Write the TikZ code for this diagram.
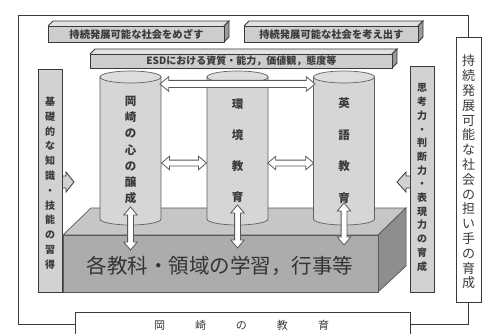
\documentclass[tikz,border=0pt]{standalone}
\usepackage{fontspec}
\newfontfamily\jp{Noto Sans CJK JP}
\usetikzlibrary{shapes.arrows,calc}
\definecolor{ink}{HTML}{3A3A3A}
\definecolor{slabfront}{HTML}{CDCDCD}
\definecolor{slabtop}{HTML}{E2E2E2}
\definecolor{slabside}{HTML}{9A9A9A}
\definecolor{cylfill}{HTML}{D6D6D6}
\definecolor{cyltop}{HTML}{DDDDDD}
\definecolor{basefront}{HTML}{ACACAC}
\definecolor{basetop}{HTML}{C6C6C6}
\definecolor{baseside}{HTML}{8E8E8E}
\definecolor{vboxfill}{HTML}{D2D2D2}
\tikzset{
  slabface/.style={draw=ink, line width=0.8pt},
  labeltext/.style={font=\jp\bfseries\fontsize{10.3}{12}\selectfont, text=ink, inner sep=0},
  vbox/.style={draw=ink, line width=1pt, fill=vboxfill, inner sep=0},
  dbl/.style={double arrow, draw=gray!70!black, line width=0.8pt, fill=white,
    inner xsep=0pt, inner ysep=2.5pt, double arrow head extend=3.8pt,
    double arrow tip angle=80},
  cylline/.style={draw=gray!75!black, line width=0.7pt},
  frameline/.style={draw=ink, line width=0.8pt},
}
% \slab{name}{x1}{y1}{x2}{y2}{depth}
\newcommand\slab[6]{%
  \fill[slabtop] (#2,#3) -- ({#2+#6},{#3-#6}) -- ({#4+#6},{#3-#6}) -- (#4,#3) -- cycle;
  \draw[slabface] (#2,#3) -- ({#2+#6},{#3-#6}) -- ({#4+#6},{#3-#6}) -- (#4,#3);
  \filldraw[slabface, fill=slabside] (#4,#3) -- ({#4+#6},{#3-#6}) -- ({#4+#6},{#5-#6}) -- (#4,#5) -- cycle;
  \node[slabface, fill=slabfront, minimum width={(#4-#2)*1pt}, minimum height={(#5-#3)*1pt}, inner sep=0, anchor=north west] (#1) at (#2,#3) {};
}
% \cyl{name}{cx}{top y}{bottom y}
\newcommand\cyl[4]{%
  \filldraw[cylline, fill=cylfill] ({#2-30.5},#3) -- ({#2-30.5},#4)
     arc[start angle=180, end angle=0, x radius=30.5, y radius=6] -- ({#2+30.5},#3) -- cycle;
  \filldraw[cylline, fill=cyltop] (#2,#3) ellipse [x radius=30.5, y radius=6];
  \node[inner sep=0, minimum width=61pt, minimum height={(#4-#3)*1pt}] (#1) at (#2,{(#3+#4)/2}) {};
}
\begin{document}
\begin{tikzpicture}[x=1pt,y=-1pt]
\useasboundingbox[fill=white] (0,0) rectangle (484,334);

% outer right box and bottom box
\node[draw=ink, line width=0.8pt, fill=white, minimum width=25pt, minimum height=265pt, inner sep=0] (rbox) at (468.5,169.5) {};
\node[font=\jp\fontsize{13}{14.8}\selectfont, text=ink, align=center, inner sep=0] (rtext) at (468.5,172)
  {持\\続\\発\\展\\可\\能\\な\\社\\会\\の\\担\\い\\手\\の\\育\\成};
\node[draw=ink, line width=0.8pt, fill=white, minimum width=335pt, minimum height=24pt, inner sep=0] (bbox) at (242.5,324.5) {};
\node[font=\jp\fontsize{11}{13}\selectfont, text=ink, inner sep=0] (btext) at (241.5,325)
  {岡\hspace{30pt}崎\hspace{30pt}の\hspace{30pt}教\hspace{30pt}育};
\draw[frameline] (rbox.north) |- (18,15) |- (bbox.west);
\draw[frameline] (rbox.south) |- (bbox.east);

% top banners
\slab{ban1}{48}{26}{224}{42}{5}
\node[labeltext] at (ban1.center) {持続発展可能な社会をめざす};
\slab{ban2}{244}{26}{418}{42}{5}
\node[labeltext] at (ban2.center) {持続発展可能な社会を考え出す};
\slab{esd}{90}{54}{392}{68}{5}
\node[labeltext, font=\jp\bfseries\fontsize{10}{12}\selectfont] at (esd.center) {ESDにおける資質・能力，価値観，態度等};

% side boxes
\filldraw[draw=ink, line width=0.8pt, fill=vboxfill] (61,176) -- (66,176) -- (66,172) -- (74,182) -- (66,192) -- (66,188) -- (61,188);
\node[vbox, minimum width=24pt, minimum height=222pt] (lbox) at (50,181) {};
\node[labeltext, align=center, font=\jp\bfseries\fontsize{10}{14.8}\selectfont] at (50,183)
  {基\\礎\\的\\な\\知\\識\\・\\技\\能\\の\\習\\得};
\filldraw[draw=ink, line width=0.8pt, fill=vboxfill] (411,176) -- (406,176) -- (406,172) -- (397,182) -- (406,192) -- (406,188) -- (411,188);
\node[vbox, minimum width=24pt, minimum height=225pt] (rvbox) at (422,179.5) {};
\node[labeltext, align=center, font=\jp\bfseries\fontsize{10}{13.7}\selectfont] at (422,177.5)
  {思\\考\\力\\・\\判\\断\\力\\・\\表\\現\\力\\の\\育\\成};

% base block
\filldraw[draw=gray!70!black, line width=0.7pt, fill=basetop] (63,235) -- (91,208) -- (406,208) -- (378,235) -- cycle;
\filldraw[draw=gray!70!black, line width=0.7pt, fill=baseside] (378,235) -- (406,208) -- (406,266) -- (378,292) -- cycle;
\node[draw=gray!70!black, line width=0.7pt, fill=basefront, minimum width=315pt, minimum height=57pt, inner sep=0, anchor=north west] (base) at (63,235) {};

% cylinders
\cyl{cylL}{130.5}{77}{219}
\cyl{cylM}{237.5}{77}{219}
\cyl{cylR}{344}{77}{219}
\node[labeltext, align=center, font=\jp\bfseries\fontsize{11.5}{16.2}\selectfont] at (130.5,150)
  {岡\\崎\\の\\心\\の\\醸\\成};
\node[labeltext, align=center, font=\jp\bfseries\fontsize{11.5}{31}\selectfont] at (237.5,151)
  {環\\境\\教\\育};
\node[labeltext, align=center, font=\jp\bfseries\fontsize{11.5}{31.5}\selectfont] at (344,150.5)
  {英\\語\\教\\育};

% base text
\node[font=\jp\fontsize{20.5}{24}\selectfont, text=ink!90!black, inner sep=0] at (220,266) {各教科・領域の学習，行事等};

% arrows
\node[dbl, minimum height=43pt, rotate=90] (va1) at (130.5,228.5) {};
\node[dbl, minimum height=43pt, rotate=90] (va2) at (237.5,226.5) {};
\node[dbl, minimum height=42pt, rotate=90] (va3) at (344,224) {};
\node[dbl, minimum height=45pt] (ha1) at ($(cylL.east)!0.5!(cylM.west)+(0,15)$) {};
\node[dbl, minimum height=46pt] (ha2) at ($(cylM.east)!0.5!(cylR.west)+(0,15)$) {};
\node[dbl, minimum height=155pt, inner ysep=3.2pt, double arrow head extend=3.8pt] (top) at (237.5,84) {};
\end{tikzpicture}
\end{document}
